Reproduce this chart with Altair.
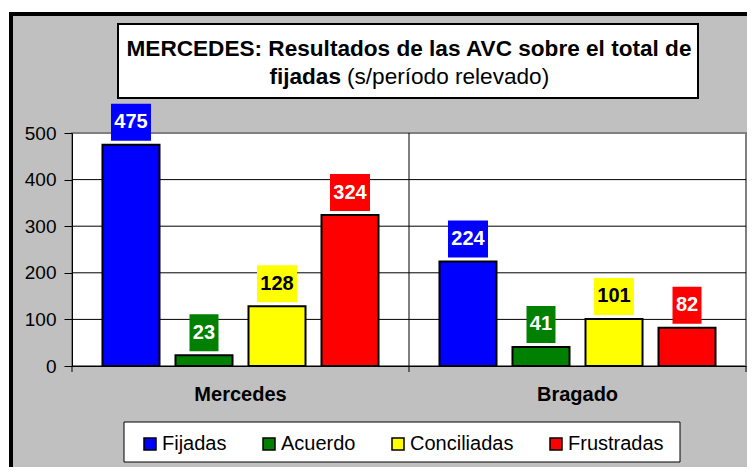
import altair as alt
import pandas as pd

categories = ["Mercedes", "Bragado"]
series = ["Fijadas", "Acuerdo", "Conciliadas", "Frustradas"]
mercedes_values = [475, 23, 128, 324]
bragado_values = [224, 41, 101, 82]
colors = ["#0000FF", "#008000", "#FFFF00", "#FF0000"]
y_ticks = [0, 100, 200, 300, 400, 500]
grid_ticks = [100, 200, 300, 400]
title_line1 = "MERCEDES: Resultados de las AVC sobre el total de"
title_line2_bold = "fijadas"
title_line2_rest = "(s/período relevado)"

rows = []
for cat, vals in zip(categories, [mercedes_values, bragado_values]):
    for s, v in zip(series, vals):
        rows.append({"cat": cat, "series": s, "value": v})
df = pd.DataFrame(rows)

W, H = 674, 233
FONT = "Liberation Sans"

xscale = alt.Scale(domain=categories, paddingInner=0, paddingOuter=0)
yscale = alt.Scale(domain=[0, 500], nice=False)
cscale = alt.Scale(domain=series, range=colors)
offscale = alt.Scale(domain=series, paddingInner=0.219, paddingOuter=0.4175)

one = alt.Data(values=[{"k": 1}])

# outside white strips + black frame
white_top = alt.Chart(one).mark_rect(color="white").encode(
    x=alt.value(-64), x2=alt.value(700), y=alt.value(-125), y2=alt.value(-121))
white_left = alt.Chart(one).mark_rect(color="white").encode(
    x=alt.value(-64), x2=alt.value(-63), y=alt.value(-125), y2=alt.value(360))
frame_top = alt.Chart(one).mark_rule(color="black", strokeWidth=4).encode(
    x=alt.value(-63), x2=alt.value(700), y=alt.value(-119))
frame_left = alt.Chart(one).mark_rule(color="black", strokeWidth=4).encode(
    x=alt.value(-61), y=alt.value(-121), y2=alt.value(360))

# title box
title_box = alt.Chart(one).mark_rect(fill="white", stroke="black", strokeWidth=2).encode(
    x=alt.value(46), x2=alt.value(626), y=alt.value(-109), y2=alt.value(-35))
t1 = alt.Chart(one).mark_text(font=FONT, fontSize=22.6, fontWeight="bold", color="black",
                               align="center", baseline="middle").encode(
    x=alt.value(337), y=alt.value(-84), text=alt.value(title_line1))
t2a = alt.Chart(one).mark_text(font=FONT, fontSize=22.6, fontWeight="bold", color="black",
                                align="right", baseline="middle").encode(
    x=alt.value(269), y=alt.value(-56), text=alt.value(title_line2_bold))
t2b = alt.Chart(one).mark_text(font=FONT, fontSize=22.6, color="black",
                                align="left", baseline="middle").encode(
    x=alt.value(275), y=alt.value(-56), text=alt.value(title_line2_rest))

# legend box
legend_box = alt.Chart(one).mark_rect(fill="white", stroke="black", strokeWidth=1).encode(
    x=alt.value(52), x2=alt.value(608), y=alt.value(289), y2=alt.value(329))

# gridlines
grid = alt.Chart(pd.DataFrame({"v": grid_ticks})).mark_rule(color="black", strokeWidth=1).encode(
    y=alt.Y("v:Q", scale=yscale))

# category separator
sep = alt.Chart(pd.DataFrame({"cat": ["Bragado"]})).mark_rule(color="black", strokeWidth=1).encode(
    x=alt.X("cat:N", scale=xscale, bandPosition=0))

bars = alt.Chart(df).mark_bar(stroke="black", strokeWidth=2).encode(
    x=alt.X("cat:N", scale=xscale, sort=categories,
            axis=alt.Axis(title=None, labelAngle=0, labelAlign="center", ticks=False,
                          domain=True, domainColor="black",
                          labelFont=FONT, labelFontSize=20, labelFontWeight="bold",
                          labelColor="black", labelPadding=28)),
    xOffset=alt.XOffset("series:N", scale=offscale, sort=series),
    y=alt.Y("value:Q", scale=yscale,
            axis=alt.Axis(title=None, values=y_ticks, grid=False, tickSize=8, tickColor="black",
                          domainColor="black", labelFont=FONT, labelFontSize=19,
                          labelColor="black", labelPadding=8)),
    color=alt.Color("series:N", scale=cscale, sort=series,
                    legend=alt.Legend(title=None, orient="none", legendX=68, legendY=301,
                                      direction="horizontal", columns=4, symbolType="square",
                                      symbolSize=144, symbolStrokeColor="black",
                                      symbolStrokeWidth=1.5, labelFont=FONT, labelFontSize=20,
                                      labelColor="black", labelOffset=2, columnPadding=32,
                                      padding=0)),
)

label_boxes = alt.Chart(df).transform_calculate(
    bw="7 + 11 * length(toString(datum.value))"
).mark_bar(yOffset=-4, y2Offset=-41).encode(
    x=alt.X("cat:N", scale=xscale, sort=categories),
    xOffset=alt.XOffset("series:N", scale=offscale, sort=series),
    y=alt.Y("value:Q", scale=yscale),
    y2="value:Q",
    size=alt.Size("bw:Q", scale=None, legend=None),
    color=alt.Color("series:N", scale=cscale, sort=series),
)

label_text = alt.Chart(df).mark_text(font=FONT, fontSize=20, fontWeight="bold",
                                      baseline="middle", dy=-22.5).encode(
    x=alt.X("cat:N", scale=xscale, sort=categories),
    xOffset=alt.XOffset("series:N", scale=offscale, sort=series),
    y=alt.Y("value:Q", scale=yscale),
    text="value:Q",
    color=alt.condition("datum.series === 'Conciliadas'", alt.value("black"), alt.value("white")),
)

xticks0 = alt.Chart(pd.DataFrame({"cat": categories})).mark_rule(color="black").encode(
    x=alt.X("cat:N", scale=xscale, bandPosition=0), y=alt.value(H), y2=alt.value(H + 6))
xticks1 = alt.Chart(pd.DataFrame({"cat": ["Bragado"]})).mark_rule(color="black").encode(
    x=alt.X("cat:N", scale=xscale, bandPosition=1), y=alt.value(H), y2=alt.value(H + 6))

chart = alt.layer(
    white_top, white_left, frame_top, frame_left, title_box, t1, t2a, t2b, legend_box,
    grid, sep, bars, label_boxes, label_text, xticks0, xticks1
).properties(
    width=W, height=H,
    autosize=alt.AutoSizeParams(type="none"),
    padding={"left": 64, "top": 125, "right": 1, "bottom": 101},
    background="#C0C0C0",
).configure_view(
    fill="white", stroke="#808080", strokeWidth=2
)

chart.save("out.html", embed_options={"renderer": "svg", "actions": False})
